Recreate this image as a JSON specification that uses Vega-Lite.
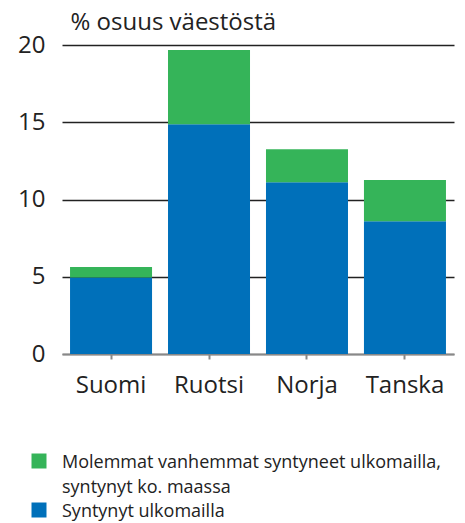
{
  "$schema": "https://vega.github.io/schema/vega-lite/v6.json",
  "autosize": "none",
  "width": 392,
  "height": 309,
  "padding": {"left": 62, "top": 45, "right": 11, "bottom": 169},
  "background": "white",
  "config": {
    "view": {"stroke": null},
    "font": "Open Sans",
    "text": {"color": "#222"}
  },
  "data": {
    "values": [
      {"maa": "Suomi", "ryhma": "Syntynyt ulkomailla", "arvo": 4.95, "o": 1},
      {"maa": "Suomi", "ryhma": "Molemmat vanhemmat syntyneet ulkomailla, syntynyt ko. maassa", "arvo": 0.68, "o": 2},
      {"maa": "Ruotsi", "ryhma": "Syntynyt ulkomailla", "arvo": 14.87, "o": 1},
      {"maa": "Ruotsi", "ryhma": "Molemmat vanhemmat syntyneet ulkomailla, syntynyt ko. maassa", "arvo": 4.81, "o": 2},
      {"maa": "Norja", "ryhma": "Syntynyt ulkomailla", "arvo": 11.12, "o": 1},
      {"maa": "Norja", "ryhma": "Molemmat vanhemmat syntyneet ulkomailla, syntynyt ko. maassa", "arvo": 2.14, "o": 2},
      {"maa": "Tanska", "ryhma": "Syntynyt ulkomailla", "arvo": 8.6, "o": 1},
      {"maa": "Tanska", "ryhma": "Molemmat vanhemmat syntyneet ulkomailla, syntynyt ko. maassa", "arvo": 2.66, "o": 2}
    ]
  },
  "mark": {"type": "bar"},
  "encoding": {
    "x": {
      "field": "maa",
      "type": "nominal",
      "sort": ["Suomi", "Ruotsi", "Norja", "Tanska"],
      "scale": {"paddingInner": 0.163, "paddingOuter": 0.082},
      "axis": {
        "title": null,
        "labelAngle": 0,
        "labelFontSize": 24,
        "labelColor": "#222",
        "labelPadding": 14,
        "domainColor": "#888",
        "domainWidth": 2,
        "tickColor": "#888",
        "tickWidth": 2,
        "tickSize": 5,
        "grid": false
      }
    },
    "y": {
      "field": "arvo",
      "type": "quantitative",
      "stack": "zero",
      "scale": {"domain": [0, 20], "nice": false},
      "axis": {
        "title": "% osuus väestöstä",
        "titleAngle": 0,
        "titleAlign": "left",
        "titleBaseline": "alphabetic",
        "titleX": 8,
        "titleY": -16,
        "titleFontSize": 24,
        "titleFontWeight": "normal",
        "titleColor": "#222",
        "values": [0, 5, 10, 15, 20],
        "domain": false,
        "ticks": false,
        "labelFontSize": 24,
        "labelColor": "#222",
        "labelPadding": 17,
        "grid": true,
        "gridColor": {"condition": {"test": "datum.value === 0", "value": "#888"}, "value": "#222"},
        "gridWidth": 1.5,
        "gridOpacity": 1
      }
    },
    "color": {
      "field": "ryhma",
      "type": "nominal",
      "scale": {
        "domain": ["Molemmat vanhemmat syntyneet ulkomailla, syntynyt ko. maassa", "Syntynyt ulkomailla"],
        "range": ["#35b459", "#0070ba"]
      },
      "legend": {
        "title": null,
        "orient": "none",
        "legendX": -32,
        "legendY": 407,
        "direction": "vertical",
        "symbolType": "square",
        "symbolSize": 225,
        "symbolStrokeWidth": 0,
        "symbolOpacity": 1,
        "labelFontSize": 18,
        "labelColor": "#222",
        "labelOffset": 14,
        "labelLimit": 0,
        "labelBaseline": "alphabetic",
        "rowPadding": 4,
        "labelExpr": "datum.label === 'Syntynyt ulkomailla' ? datum.label : ['Molemmat vanhemmat syntyneet ulkomailla,', 'syntynyt ko. maassa']",
        "encode": {
          "labels": {"update": {"lineHeight": {"value": 24.5}, "dy": {"value": 7}}}
        }
      }
    },
    "order": {"field": "o", "type": "quantitative"}
  }
}
